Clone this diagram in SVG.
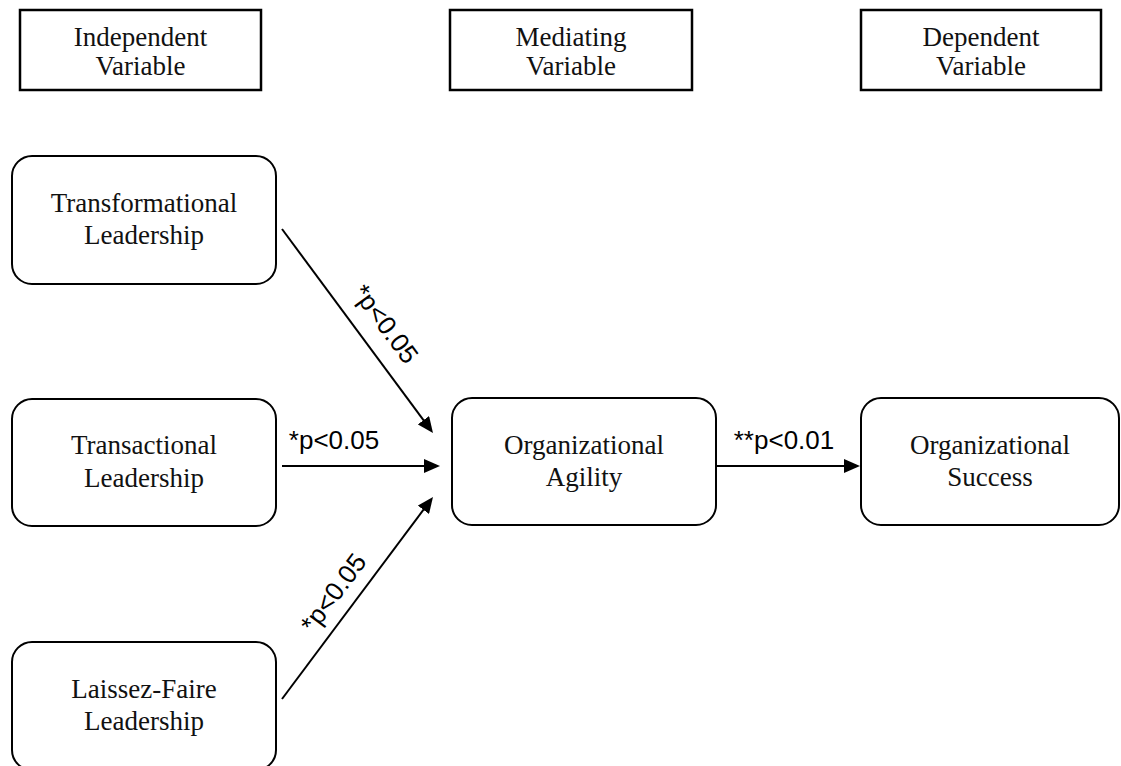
<svg xmlns="http://www.w3.org/2000/svg" width="1121" height="766" viewBox="0 0 1121 766">
  <style>
    .hdr { fill: #ffffff; stroke: #000000; stroke-width: 2.5; }
    .node { fill: #ffffff; stroke: #000000; stroke-width: 2; }
    .lbl { font-family: "Liberation Serif", "Times New Roman", serif; font-size: 27px; fill: #111111; text-anchor: middle; }
    .edge { stroke: #000000; stroke-width: 2; fill: none; marker-end: url(#arrow); }
    .sig { font-family: "Liberation Sans", Arial, sans-serif; font-size: 26px; fill: #000000; text-anchor: middle; }
  </style>
  <defs>
    <marker id="arrow" markerUnits="userSpaceOnUse" markerWidth="16" markerHeight="14" refX="10" refY="7" orient="auto">
      <path d="M0,0 L16,7 L0,14 Z" fill="#000000"/>
    </marker>
  </defs>
  <rect width="1121" height="766" fill="#ffffff"/>

  <!-- column headers -->
  <g id="hdr-independent">
    <rect class="hdr" x="20" y="10" width="241" height="80"/>
    <text class="lbl" x="140.5" y="46">Independent</text>
    <text class="lbl" x="140.5" y="75">Variable</text>
  </g>
  <g id="hdr-mediating">
    <rect class="hdr" x="450" y="10" width="242" height="80"/>
    <text class="lbl" x="571" y="46">Mediating</text>
    <text class="lbl" x="571" y="75">Variable</text>
  </g>
  <g id="hdr-dependent">
    <rect class="hdr" x="861" y="10" width="240" height="80"/>
    <text class="lbl" x="981" y="46">Dependent</text>
    <text class="lbl" x="981" y="75">Variable</text>
  </g>

  <!-- leadership styles -->
  <g id="transformational">
    <rect class="node" x="12" y="156" width="264" height="128" rx="20" ry="20"/>
    <text class="lbl" x="144" y="212">Transformational</text>
    <text class="lbl" x="144" y="244">Leadership</text>
  </g>
  <g id="transactional">
    <rect class="node" x="12" y="399" width="264" height="127" rx="20" ry="20"/>
    <text class="lbl" x="144" y="454">Transactional</text>
    <text class="lbl" x="144" y="487">Leadership</text>
  </g>
  <g id="laissez-faire">
    <rect class="node" x="12" y="642" width="264" height="128" rx="20" ry="20"/>
    <text class="lbl" x="144" y="698">Laissez-Faire</text>
    <text class="lbl" x="144" y="730">Leadership</text>
  </g>

  <!-- mediator and outcome -->
  <g id="agility">
    <rect class="node" x="452" y="398" width="264" height="127" rx="20" ry="20"/>
    <text class="lbl" x="584" y="454">Organizational</text>
    <text class="lbl" x="584" y="486">Agility</text>
  </g>
  <g id="success">
    <rect class="node" x="861" y="398" width="258" height="127" rx="20" ry="20"/>
    <text class="lbl" x="990" y="454">Organizational</text>
    <text class="lbl" x="990" y="486">Success</text>
  </g>

  <!-- paths with significance levels -->
  <g id="connectors">
    <line class="edge" x1="282" y1="229" x2="429.4" y2="428.2"/>
    <line class="edge" x1="282" y1="466" x2="434" y2="466"/>
    <line class="edge" x1="282" y1="699" x2="429.4" y2="501.8"/>
    <line class="edge" x1="716" y1="466" x2="854" y2="466"/>
    <text class="sig" transform="translate(364,340) rotate(53.5)" x="0" y="-18">*p&lt;0.05</text>
    <text class="sig" x="334" y="449">*p&lt;0.05</text>
    <text class="sig" transform="translate(355,609) rotate(-53.2)" x="0" y="-18">*p&lt;0.05</text>
    <text class="sig" x="784" y="449">**p&lt;0.01</text>
  </g>
</svg>
